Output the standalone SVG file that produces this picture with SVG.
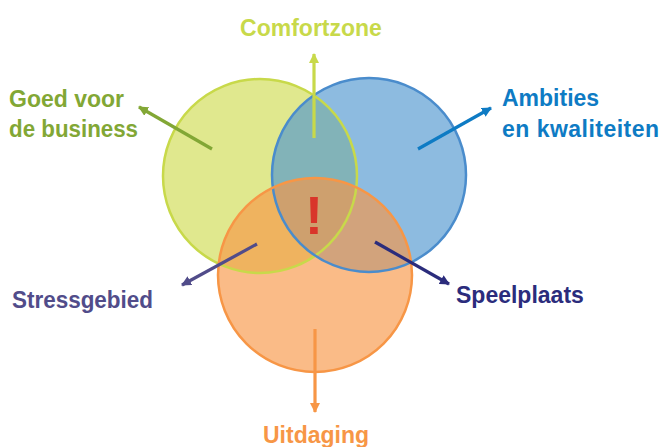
<svg xmlns="http://www.w3.org/2000/svg" width="667" height="447" viewBox="0 0 667 447">
<defs>
<style>
.lbl{font-family:"Liberation Sans",Arial,sans-serif;font-weight:bold;font-size:23px}
.ln{stroke-width:3.2;fill:none;stroke-linecap:butt}
.edge{fill:none;stroke-width:2.5}
</style>
<marker id="mY" viewBox="0 0 10 10" refX="9" refY="5" markerWidth="10" markerHeight="10" markerUnits="userSpaceOnUse" orient="auto"><path d="M0,0 L10,5 L0,10 z" fill="#c8d94a"/></marker>
<marker id="mG" viewBox="0 0 10 10" refX="9" refY="5" markerWidth="10" markerHeight="10" markerUnits="userSpaceOnUse" orient="auto"><path d="M0,0 L10,5 L0,10 z" fill="#82a735"/></marker>
<marker id="mB" viewBox="0 0 10 10" refX="9" refY="5" markerWidth="10" markerHeight="10" markerUnits="userSpaceOnUse" orient="auto"><path d="M0,0 L10,5 L0,10 z" fill="#0e7bc4"/></marker>
<marker id="mP" viewBox="0 0 10 10" refX="9" refY="5" markerWidth="10" markerHeight="10" markerUnits="userSpaceOnUse" orient="auto"><path d="M0,0 L10,5 L0,10 z" fill="#514c8a"/></marker>
<marker id="mN" viewBox="0 0 10 10" refX="9" refY="5" markerWidth="10" markerHeight="10" markerUnits="userSpaceOnUse" orient="auto"><path d="M0,0 L10,5 L0,10 z" fill="#2b2c7c"/></marker>
<marker id="mO" viewBox="0 0 10 10" refX="9" refY="5" markerWidth="10" markerHeight="10" markerUnits="userSpaceOnUse" orient="auto"><path d="M0,0 L10,5 L0,10 z" fill="#f79646"/></marker>
</defs>
<g id="circles">
<g id="green-circle"><circle cx="260" cy="176" r="97" fill="#cbd943" fill-opacity="0.6"/></g>
<g id="blue-circle"><circle cx="369" cy="175" r="97" fill="#5096cf" fill-opacity="0.65"/></g>
<g id="orange-circle"><circle cx="315" cy="275" r="97" fill="#f79646" fill-opacity="0.65"/></g>
<circle cx="260" cy="176" r="97" class="edge" stroke="#c8d94a"/>
<circle cx="369" cy="175" r="97" class="edge" stroke="#4a8ccc"/>
<circle cx="315" cy="275" r="97" class="edge" stroke="#f79646"/>
</g>
<g id="connectors">
<line class="ln" x1="314" y1="138" x2="314" y2="54" stroke="#c8d94a" marker-end="url(#mY)"/>
<line class="ln" x1="212" y1="149" x2="139" y2="107" stroke="#82a735" marker-end="url(#mG)"/>
<line class="ln" x1="418" y1="149" x2="491" y2="108" stroke="#0e7bc4" marker-end="url(#mB)"/>
<line class="ln" x1="257" y1="244" x2="182" y2="285" stroke="#514c8a" marker-end="url(#mP)"/>
<line class="ln" x1="375" y1="242" x2="449" y2="284" stroke="#2b2c7c" marker-end="url(#mN)"/>
<line class="ln" x1="315" y1="329" x2="315" y2="412" stroke="#f79646" marker-end="url(#mO)"/>
</g>
<g id="center"><text x="314" y="234" text-anchor="middle" font-family="Liberation Sans, Arial, sans-serif" font-weight="bold" font-size="54" fill="#d9352a">!</text></g>
<g id="comfortzone"><text class="lbl" x="311" y="36" text-anchor="middle" fill="#c8d94a">Comfortzone</text></g>
<g id="goed-voor"><text class="lbl" x="9" y="107" fill="#82a735">Goed voor</text><text class="lbl" x="9" y="137" fill="#82a735" textLength="129" lengthAdjust="spacingAndGlyphs">de business</text></g>
<g id="ambities"><text class="lbl" x="502" y="106" fill="#0e7bc4">Ambities</text><text class="lbl" x="502" y="137" fill="#0e7bc4" textLength="157">en kwaliteiten</text></g>
<g id="stressgebied"><text class="lbl" x="12" y="308" fill="#514c8a" textLength="141" lengthAdjust="spacingAndGlyphs">Stressgebied</text></g>
<g id="speelplaats"><text class="lbl" x="456" y="303" fill="#2b2c7c">Speelplaats</text></g>
<g id="uitdaging"><text class="lbl" x="316" y="443" text-anchor="middle" fill="#f79646">Uitdaging</text></g>
</svg>
